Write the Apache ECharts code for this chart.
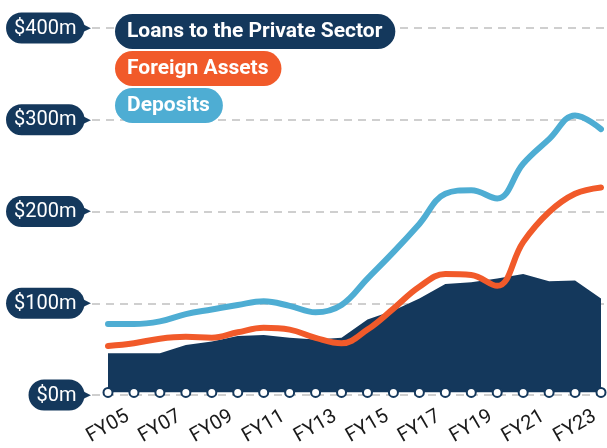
<!DOCTYPE html>
<html>
<head>
<meta charset="utf-8">
<script src="https://cdn.jsdelivr.net/npm/echarts@6/dist/echarts.min.js"></script>
<style>
  html, body { margin: 0; padding: 0; background: #fff; }
  #chart { width: 607px; height: 448px; }
</style>
</head>
<body>
<div id="chart"></div>
<script>
// data ($m)
var years = ['FY05','FY06','FY07','FY08','FY09','FY10','FY11','FY12','FY13','FY14',
             'FY15','FY16','FY17','FY18','FY19','FY20','FY21','FY22','FY23','FY24'];
var loans    = [43, 43, 43, 52, 56, 62, 63, 60, 58, 60, 80, 90, 103, 119, 121, 125, 130, 122, 123, 103];
var foreign  = [51, 54, 59, 61, 60, 66, 71, 69, 60, 54, 69, 92, 116, 130, 129, 117, 165, 198, 218, 225];
var deposits = [75, 75, 78, 86, 91, 96, 100, 95, 88, 96, 125, 154, 185, 218, 222, 213, 251, 278, 304, 289];
var yTicks = [0, 100, 200, 300, 400];

var navy = '#14385c';
var orange = '#f15a2a';
var blue = '#4eadd3';

var chart = echarts.init(document.getElementById('chart'));
chart.setOption({
    animation: false,
    textStyle: { fontFamily: 'Roboto' },
    legend: {
        orient: 'vertical',
        left: 105,
        top: 9,
        itemGap: 2,
        itemWidth: 0,
        itemHeight: 0,
        icon: 'none',
        selectedMode: false,
        textStyle: {
            color: '#fff',
            fontSize: 21,
            fontWeight: 'bold',
            padding: [7, 13, 7, 12],
            borderRadius: 18
        },
        data: [
            { name: 'Loans to the Private Sector', textStyle: { backgroundColor: navy } },
            { name: 'Foreign Assets', textStyle: { backgroundColor: orange } },
            { name: 'Deposits', textStyle: { backgroundColor: blue } }
        ]
    },
    grid: [
        { left: 108, right: 6, top: 28, bottom: 53 },
        { left: 92, right: 0, top: 28, bottom: 53 }
    ],
    xAxis: [
        {
            type: 'category',
            gridIndex: 0,
            boundaryGap: false,
            data: years,
            axisLine: { show: false },
            axisTick: { show: false },
            axisLabel: {
                interval: 1,
                rotate: 30,
                align: 'center',
                verticalAlign: 'middle',
                margin: 34,
                fontSize: 20,
                color: '#1a1a1a'
            }
        },
        { type: 'category', gridIndex: 1, show: false, data: years }
    ],
    yAxis: [
        { type: 'value', gridIndex: 0, min: 0, max: 400, interval: 100, show: false },
        {
            type: 'value',
            gridIndex: 1,
            min: 0,
            max: 400,
            interval: 100,
            axisLine: { show: false },
            axisTick: { show: false },
            splitLine: { lineStyle: { color: '#cfcfcf', width: 2, type: [8, 6] } },
            axisLabel: {
                margin: 1,
                formatter: function (v) {
                    return yTicks.indexOf(v) > -1 ? '{p|$' + v + 'm}{t|\u25B6}' : '';
                },
                rich: {
                    p: {
                        color: '#fff',
                        fontSize: 20,
                        backgroundColor: navy,
                        borderRadius: 16,
                        padding: [6, 8, 5, 8]
                    },
                    t: { color: navy, fontSize: 11, fontFamily: 'DejaVu Sans', padding: [0, 0, 0, -2] }
                }
            }
        }
    ],
    series: [
        {
            name: 'Loans to the Private Sector',
            type: 'line',
            data: loans,
            symbol: 'none',
            lineStyle: { width: 0 },
            itemStyle: { color: navy },
            areaStyle: { color: navy, opacity: 1 },
            z: 2
        },
        {
            name: 'Foreign Assets',
            type: 'line',
            data: foreign,
            smooth: 0.4,
            symbol: 'none',
            lineStyle: { width: 6, color: orange, cap: 'round' },
            itemStyle: { color: orange },
            z: 3
        },
        {
            name: 'Deposits',
            type: 'line',
            data: deposits,
            smooth: 0.4,
            symbol: 'none',
            lineStyle: { width: 6, color: blue, cap: 'round' },
            itemStyle: { color: blue },
            z: 4
        },
        {
            name: 'baseline',
            type: 'line',
            data: years.map(function () { return 0; }),
            symbol: 'circle',
            symbolSize: 9,
            lineStyle: { opacity: 0 },
            itemStyle: { color: '#fff', borderColor: navy, borderWidth: 2 },
            z: 5
        }
    ]
});
</script>
</body>
</html>
